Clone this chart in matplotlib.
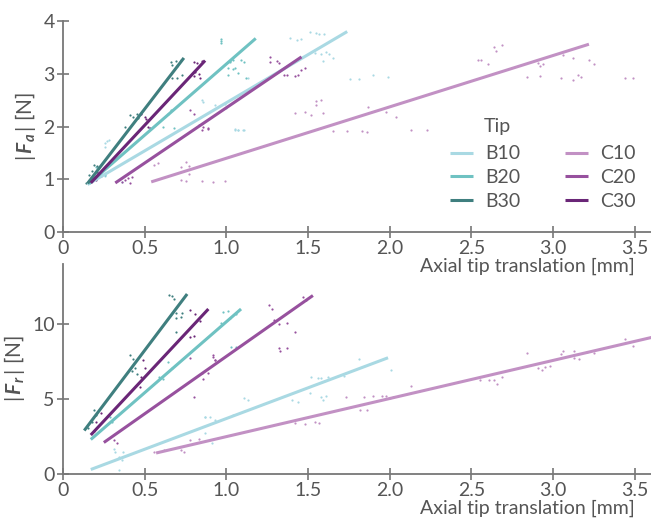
import numpy as np
import matplotlib
matplotlib.use('Agg')
import matplotlib.pyplot as plt

plt.rcParams['font.family'] = ['Lato', 'DejaVu Sans']
plt.rcParams['mathtext.fontset'] = 'custom'
plt.rcParams['mathtext.rm'] = 'Lato'
plt.rcParams['mathtext.it'] = 'Lato:italic:bold'

tips = ['B10', 'B20', 'B30', 'C10', 'C20', 'C30']
colors = ['#a9d9e3', '#6fc2c2', '#3f7f7f', '#c291c4', '#97519e', '#6a2677']

# fitted lines: (x start, x end, y start, y end)
fit_a = {
    'B10': (0.15, 1.74, 0.90, 3.80),
    'B20': (0.16, 1.18, 0.92, 3.67),
    'B30': (0.15, 0.74, 0.92, 3.30),
    'C10': (0.54, 3.22, 0.95, 3.56),
    'C20': (0.32, 1.46, 0.93, 3.32),
    'C30': (0.17, 0.87, 0.93, 3.25),
}
fit_r = {
    'B10': (0.17, 1.99, 0.30, 7.75),
    'B20': (0.17, 1.09, 2.30, 11.0),
    'B30': (0.13, 0.76, 2.90, 12.0),
    'C10': (0.57, 3.70, 1.40, 9.35),
    'C20': (0.25, 1.53, 2.10, 11.9),
    'C30': (0.17, 0.89, 2.60, 11.0),
}

# measured points, axial force
pts_a = {
    'B10': ([1.39, 1.43, 1.46, 1.51, 1.55, 1.57, 1.60, 1.54, 1.58, 1.61, 1.63, 1.59, 1.65,
             1.76, 1.81, 1.90, 1.99, 1.13, 1.05, 1.07, 1.11, 0.99, 1.00, 0.26, 0.27, 0.28,
             0.26, 0.23, 0.26, 0.36, 0.85, 0.86, 0.93, 1.05, 1.07, 1.10],
            [3.68, 3.64, 3.66, 3.80, 3.77, 3.76, 3.76, 3.39, 3.37, 3.41, 3.38, 3.25, 3.30,
             2.90, 2.90, 2.97, 2.93, 2.92, 1.95, 1.94, 1.93, 2.43, 2.35, 1.69, 1.72, 1.75,
             1.62, 1.12, 1.07, 0.95, 2.50, 2.47, 2.40, 1.93, 1.93, 1.93]),
    'B20': ([0.97, 0.97, 0.97, 1.01, 1.02, 1.04, 1.01, 1.04, 1.01, 1.12, 1.02, 1.09, 1.07,
             1.05, 1.11, 0.66, 0.64, 0.61, 0.68, 0.20, 0.26, 0.29],
            [3.66, 3.62, 3.59, 3.23, 3.25, 3.27, 3.11, 3.09, 2.97, 2.92, 3.23, 3.27, 3.01,
             3.11, 3.23, 2.31, 2.24, 2.00, 1.98, 1.24, 1.08, 1.31]),
    'B30': ([0.66, 0.69, 0.72, 0.67, 0.70, 0.67, 0.70, 0.73, 0.41, 0.43, 0.45, 0.46, 0.38,
             0.19, 0.21, 0.18, 0.16, 0.14],
            [3.23, 3.25, 3.27, 3.16, 3.14, 2.92, 2.92, 2.97, 2.22, 2.18, 2.24, 2.16, 1.99,
             1.27, 1.25, 1.15, 1.08, 0.93]),
    'C10': ([2.64, 2.69, 2.65, 2.54, 2.56, 2.60, 2.84, 2.92, 2.91, 2.94, 2.92, 3.06, 3.12,
             3.05, 3.12, 3.15, 3.17, 3.22, 3.25, 3.44, 3.49, 1.98, 2.04, 2.13, 2.23, 1.55,
             1.58, 1.55, 1.42, 1.48, 1.52, 1.59, 1.65, 1.74, 1.83, 1.86, 1.87, 0.92, 0.99,
             0.77, 0.58, 0.56, 0.72, 0.75, 0.77, 0.72, 0.75, 0.85],
            [3.51, 3.55, 3.43, 3.26, 3.27, 3.18, 2.94, 2.96, 3.20, 3.18, 3.14, 3.36, 3.29,
             2.92, 2.88, 2.97, 2.93, 3.26, 3.19, 2.92, 2.92, 2.27, 2.18, 1.93, 1.94, 2.48,
             2.50, 2.41, 2.26, 2.27, 2.21, 2.25, 1.91, 1.91, 1.92, 1.90, 2.37, 0.95, 0.96,
             1.10, 1.31, 1.27, 1.23, 1.33, 1.26, 0.98, 0.96, 0.96]),
    'C20': ([1.27, 1.27, 1.31, 1.32, 1.37, 1.35, 1.42, 1.44, 1.46, 1.48, 0.85, 0.89, 0.78,
             0.80, 0.83, 0.86, 0.89, 0.36, 0.38, 0.40, 0.42, 0.41],
            [3.32, 3.22, 3.25, 3.20, 2.97, 2.97, 2.95, 2.97, 3.07, 3.10, 1.93, 1.95, 2.31,
             2.23, 2.03, 2.00, 1.97, 0.95, 0.98, 1.02, 1.05, 0.93]),
    'C30': ([0.80, 0.82, 0.85, 0.81, 0.83, 0.80, 0.84, 0.50, 0.51, 0.52, 0.53, 0.48, 0.21,
             0.23, 0.17, 0.20],
            [3.23, 3.20, 3.25, 3.03, 3.00, 2.96, 2.92, 2.18, 2.14, 1.99, 1.97, 2.24, 1.14,
             1.07, 1.02, 0.99]),
}

# measured points, radial force
pts_r = {
    'B10': ([1.81, 2.01, 1.52, 1.56, 1.58, 1.62, 1.72, 1.58, 1.61, 1.59, 1.51, 1.44, 1.40,
             1.11, 1.13, 1.04, 0.87, 0.90, 0.93, 0.87, 0.91, 0.32, 0.34, 0.36, 0.34, 0.31,
             0.37, 0.87],
            [7.67, 6.93, 6.47, 6.40, 6.40, 6.47, 6.53, 5.13, 5.20, 4.93, 5.40, 4.80, 4.93,
             5.07, 4.93, 3.93, 3.80, 3.80, 3.60, 2.73, 2.07, 1.47, 1.13, 0.93, 0.27, 1.67,
             1.47, 3.80]),
    'B20': ([0.98, 1.01, 1.06, 1.02, 0.97, 1.03, 1.06, 0.64, 0.67, 0.59, 0.61, 0.29, 0.30],
            [10.8, 10.9, 10.7, 10.4, 10.07, 8.47, 8.47, 7.47, 7.07, 6.47, 6.33, 3.80, 3.49]),
    'B30': ([0.65, 0.67, 0.68, 0.69, 0.72, 0.69, 0.73, 0.69, 0.41, 0.43, 0.44, 0.42, 0.45,
             0.19, 0.20, 0.18, 0.15],
            [11.93, 11.87, 11.67, 10.73, 10.5, 10.4, 10.73, 9.47, 7.93, 7.70, 7.10, 6.90, 6.70,
             4.27, 3.93, 3.49, 3.07]),
    'C10': ([0.56, 0.62, 0.72, 0.74, 0.78, 0.83, 1.42, 1.48, 1.54, 1.57, 1.73, 1.84, 1.82,
             1.86, 1.90, 1.95, 2.02, 2.84, 2.91, 2.93, 2.95, 2.98, 3.05, 3.06, 3.13, 3.13,
             3.16, 3.21, 3.25, 3.44, 3.49, 2.55, 2.61, 2.64, 2.66, 2.69, 2.13, 1.98, 2.00],
            [1.47, 1.60, 1.60, 1.47, 2.27, 2.33, 3.40, 3.33, 3.47, 3.40, 5.13, 5.13, 4.27,
             4.27, 5.20, 5.20, 5.13, 8.07, 7.07, 6.93, 7.13, 7.20, 8.00, 8.20, 8.20, 7.73,
             7.67, 8.13, 8.07, 9.00, 8.53, 6.27, 6.30, 6.27, 6.00, 6.47, 5.87, 5.20, 5.10]),
    'C20': ([1.26, 1.28, 1.47, 1.49, 1.29, 1.32, 1.37, 1.42, 1.32, 1.37, 1.33, 0.92, 0.93,
             0.85, 0.89, 0.86, 0.78, 0.80, 0.92, 0.93, 0.33, 0.31],
            [11.27, 11.0, 11.8, 11.6, 10.27, 10.0, 10.1, 9.47, 8.40, 8.40, 8.20, 7.93, 7.60,
             6.73, 6.73, 6.33, 7.73, 5.13, 7.80, 7.60, 2.07, 2.30]),
    'C30': ([0.78, 0.81, 0.84, 0.78, 0.80, 0.49, 0.50, 0.48, 0.47, 0.23, 0.20, 0.19],
            [10.93, 10.7, 10.2, 9.13, 9.20, 7.60, 7.10, 6.50, 5.80, 4.07, 3.49, 2.87]),
}

grey = '#777777'
txt = '#555555'
fig = plt.figure(figsize=(6.51, 5.19), dpi=100)
ax1 = fig.add_axes([0.0968, 0.553, 0.9032, 0.4065])
ax2 = fig.add_axes([0.0968, 0.0867, 0.9032, 0.4046])
ax2.patch.set_visible(False)

for ax, fits, pts in [(ax1, fit_a, pts_a), (ax2, fit_r, pts_r)]:
    for tip, c in zip(tips, colors):
        x0, x1, y0, y1 = fits[tip]
        ax.plot([x0, x1], [y0, y1], color=c, lw=2.2, label=tip, solid_capstyle='butt')
        px, py = pts[tip]
        ax.scatter(px, py, s=2.5, color=c, linewidths=0)
    ax.set_xlim(0, 3.6)
    ax.set_xticks([0, 0.5, 1.0, 1.5, 2.0, 2.5, 3.0, 3.5])
    ax.set_xticklabels(['0', '0.5', '1.0', '1.5', '2.0', '2.5', '3.0', '3.5'])
    for s in ['top', 'right']:
        ax.spines[s].set_visible(False)
    for s in ['left', 'bottom']:
        ax.spines[s].set_color(grey)
        ax.spines[s].set_linewidth(1.3)
    ax.tick_params(colors=grey, labelcolor=txt, labelsize=14, direction='inout',
                   length=8, width=1.2, pad=2)
    ax.set_xlabel('Axial tip translation [mm]', fontsize=14, color=txt, ha='right')
    ax.xaxis.set_label_coords(0.973, -0.122)

ax1.set_ylim(0, 4)
ax1.set_yticks([0, 1, 2, 3, 4])
ax1.set_ylabel(r'$|\,\mathit{F}_a\,|$ [N]', fontsize=15, color=txt, labelpad=4)
ax2.set_ylim(0, 14)
ax2.set_yticks([0, 5, 10])
ax2.set_ylabel(r'$|\,\mathit{F}_r\,|$ [N]', fontsize=15, color=txt, labelpad=4)

leg = ax1.legend(ncol=2, frameon=False, loc='upper left',
                 bbox_to_anchor=(0.658, 0.41), borderaxespad=0, borderpad=0,
                 fontsize=14, handlelength=1.2, columnspacing=2.3,
                 labelspacing=0.35, handletextpad=0.6)
for t in leg.get_texts():
    t.set_color(txt)
ax1.text(0.716, 0.50, 'Tip', transform=ax1.transAxes, fontsize=14, color=txt,
         ha='left', va='center')

fig.savefig('out.png', dpi=100)
